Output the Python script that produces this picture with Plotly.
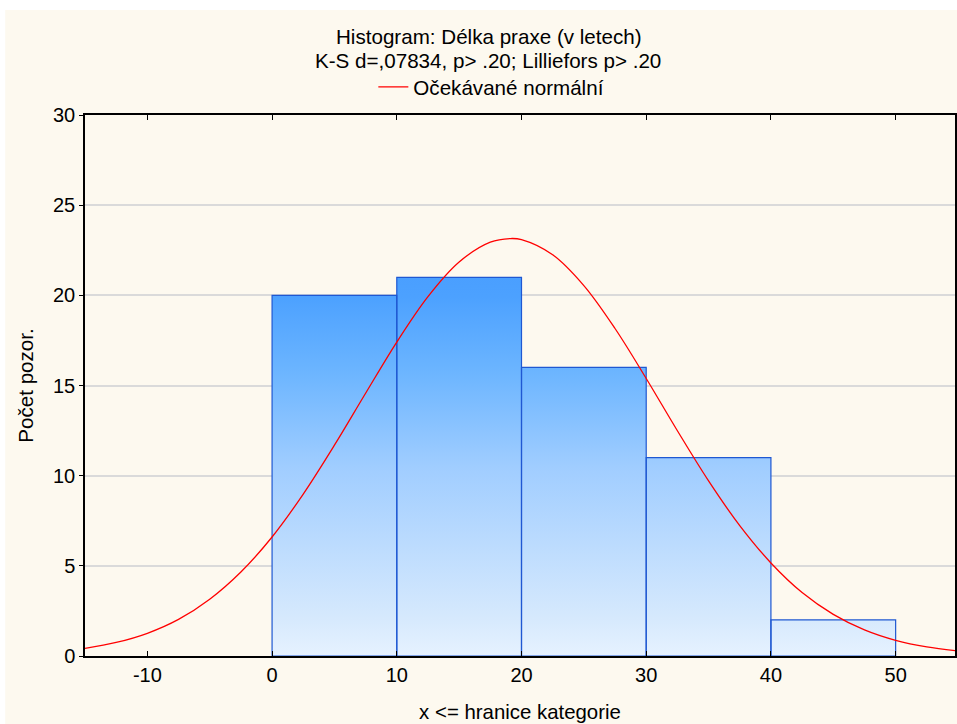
import plotly.graph_objects as go

# ---- data ----
bin_edges = [0, 10, 20, 30, 40, 50]
counts = [20, 21, 16, 11, 2]
curve_x = [-15, -12.5, -10, -7.5, -5, -2.5, 0, 2.5, 5, 7.5, 10, 12.5, 15, 17.5, 19.1,
           20, 22.5, 25, 27.5, 30, 32.5, 35, 37.5, 40, 42.5, 45, 47.5, 50, 52.5, 55]
curve_y = [0.42, 0.75, 1.26, 2.03, 3.15, 4.66, 6.60, 8.98, 11.69, 14.57, 17.41, 19.93, 21.85, 22.95, 23.15,
           23.09, 22.25, 20.54, 18.16, 15.39, 12.49, 9.71, 7.23, 5.16, 3.52, 2.31, 1.45, 0.87, 0.50, 0.28]
x_ticks = [-10, 0, 10, 20, 30, 40, 50]
x_tick_labels = ["-10", "0", "10", "20", "30", "40", "50"]
y_ticks = [0, 5, 10, 15, 20, 25, 30]

title1 = "Histogram: Délka praxe (v letech)"
title2 = "K-S d=,07834, p> .20; Lilliefors p> .20"
legend_name = "Očekávané normální"
x_title = "x <= hranice kategorie"
y_title = "Počet pozor."

FONT = "Liberation Sans, Arial, sans-serif"
CREAM = "#fdf9ef"

# build bar polygons from bin edges and counts
px, py = [], []
for i, c in enumerate(counts):
    a, b = bin_edges[i], bin_edges[i + 1]
    px += [a, a, b, b, a, None]
    py += [0, c, c, 0, 0, None]

fig = go.Figure()
fig.add_trace(go.Scatter(
    x=px, y=py, mode="lines", fill="toself",
    line=dict(color="#1f58d2", width=1.2),
    fillgradient=dict(
        type="vertical",
        colorscale=[[0, "#e6f2ff"], [0.1, "#d6e9fd"], [0.5, "#a0cdff"],
                    [0.75, "#6cb5ff"], [0.95, "#4ca1ff"], [1, "#4a9fff"]],
        start=0, stop=21),
    showlegend=False, hoverinfo="skip"))
fig.add_trace(go.Scatter(
    x=curve_x, y=curve_y, mode="lines", line=dict(color="#ff0000", width=1.3, shape="spline"),
    name=legend_name))

L, T, B = 85, 115, 68
W, H = 957, 724
pw, ph = W - L, H - T - B

def py_(pix):
    return 1 + (T - pix) / ph

def px_(pix):
    return (pix - L) / pw

fig.update_layout(
    width=W, height=H,
    margin=dict(l=L, r=0, t=T, b=B),
    paper_bgcolor="white", plot_bgcolor="white",
    font=dict(family=FONT, size=20, color="black"),
    showlegend=True,
    legend=dict(orientation="h", x=px_(374), xanchor="left",
                y=py_(87), yanchor="middle", bgcolor="rgba(0,0,0,0)",
                font=dict(size=20.6)),
    shapes=[dict(type="rect", xref="paper", yref="paper",
                 x0=px_(5), x1=1.01, y0=py_(H + 5), y1=py_(10),
                 fillcolor=CREAM, line=dict(width=0), layer="below")],
    annotations=[
        dict(text=title1, xref="paper", yref="paper", x=px_(490), y=py_(37),
             showarrow=False, xanchor="center", yanchor="middle", font=dict(size=20.6)),
        dict(text=title2, xref="paper", yref="paper", x=px_(489), y=py_(60.5),
             showarrow=False, xanchor="center", yanchor="middle", font=dict(size=20.6)),
    ],
)
fig.update_xaxes(
    range=[-15, -15 + pw / 12.5], tickvals=x_ticks, ticktext=x_tick_labels,
    ticks="inside", ticklen=5,
    tickcolor="black", showline=True, linecolor="black", linewidth=1.5,
    mirror="ticks", showgrid=False, zeroline=False,
    title=dict(text=x_title, standoff=20, font=dict(size=20.4)), tickfont=dict(size=20))
fig.update_yaxes(
    range=[0, 30], tickvals=y_ticks, ticks="outside", ticklen=4,
    tickcolor="black", showline=True, linecolor="black", linewidth=1.5,
    mirror=True, showgrid=True, gridcolor="#dadada", gridwidth=1.5, zeroline=False,
    title=dict(text=y_title, standoff=14, font=dict(size=20.6)), tickfont=dict(size=20))

fig.write_html("out.html", config={"displayModeBar": False},
               post_script="document.body.style.margin='0';document.body.style.overflow='hidden';")
